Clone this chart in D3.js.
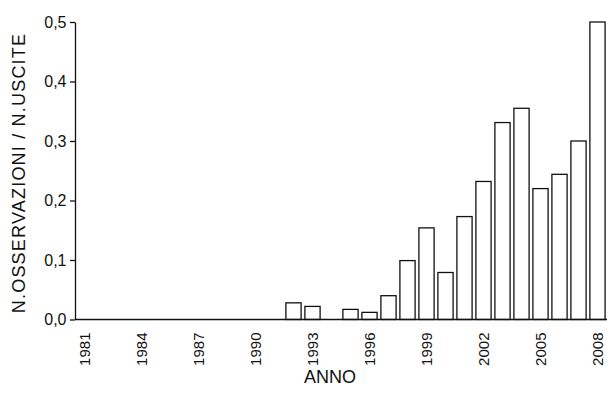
<!DOCTYPE html>
<html>
<head>
<meta charset="utf-8">
<script src="https://cdn.jsdelivr.net/npm/d3@7/dist/d3.min.js"></script>
<style>
body{margin:0;background:#fff;}
text{font-family:"Liberation Sans",Arial,sans-serif;fill:#111;}
</style>
</head>
<body>
<svg id="chart" width="607" height="394"></svg>
<script>
const years = [1981,1982,1983,1984,1985,1986,1987,1988,1989,1990,1991,1992,1993,1994,1995,1996,1997,1998,1999,2000,2001,2002,2003,2004,2005,2006,2007,2008];
const values = [0,0,0,0,0,0,0,0,0,0,0,0.028,0.022,0,0.017,0.012,0.040,0.099,0.154,0.079,0.173,0.232,0.331,0.355,0.220,0.244,0.300,0.500];
const yTicks = [0,0.1,0.2,0.3,0.4,0.5];
const xTickYears = [1981,1984,1987,1990,1993,1996,1999,2002,2005,2008];
const yTitle = "N.OSSERVAZIONI / N.USCITE";
const xTitle = "ANNO";

(function(){
const svg = d3.select("#chart");
const mLeft = 75, mRight = 607, mTop = 22, mBottom = 319.5;

const x = d3.scaleBand().domain(years).range([mLeft, mRight]).paddingInner(0.2).paddingOuter(0.1);
const y = d3.scaleLinear().domain([0,0.5]).range([mBottom, mTop]);
const fmt = d => d3.format(".1f")(d).replace(".", ",");

// bars
svg.append("g").selectAll("rect").data(years).join("rect")
  .attr("x", d => x(d))
  .attr("width", x.bandwidth())
  .attr("y", (d,i) => y(values[i]))
  .attr("height", (d,i) => Math.max(0, y(0) - y(values[i])))
  .attr("fill", "#fff")
  .attr("stroke", "#111")
  .attr("stroke-width", 1.3);

// y axis
const yAxis = svg.append("g").attr("transform", `translate(${mLeft},0)`)
  .call(d3.axisLeft(y).tickValues(yTicks).tickFormat(fmt).tickSize(5).tickSizeOuter(0));
yAxis.attr("font-size", null).attr("font-family", null);
yAxis.select(".domain").attr("stroke", "#111").attr("stroke-width", 1.3);
yAxis.selectAll(".tick line").attr("stroke", "#111").attr("stroke-width", 1.3);
yAxis.selectAll("text").style("font-size", "16px").attr("x", -8.5).attr("fill", "#111");

// x baseline
svg.append("line").attr("x1", mLeft).attr("x2", mRight).attr("y1", y(0)).attr("y2", y(0))
  .attr("stroke", "#111").attr("stroke-width", 1.3);

// x labels
const xAxis = svg.append("g").attr("transform", `translate(0,${y(0)})`)
  .call(d3.axisBottom(x).tickValues(xTickYears).tickSize(0).tickSizeOuter(0));
xAxis.attr("font-size", null).attr("font-family", null);
xAxis.select(".domain").remove();
xAxis.selectAll("text")
  .style("font-size", "15px")
  .attr("fill", "#111")
  .attr("transform", "rotate(-90)")
  .attr("text-anchor", "end")
  .attr("x", -13)
  .attr("y", 0)
  .attr("dy", "0.35em");

// titles
svg.append("text").attr("x", 330).attr("y", 383).attr("text-anchor", "middle")
  .style("font-size", "18px").text(xTitle);
svg.append("text").attr("transform", "translate(25,173) rotate(-90)").attr("text-anchor", "middle")
  .style("font-size", "18px").style("letter-spacing", "1.2px").text(yTitle);
})();
</script>
</body>
</html>
